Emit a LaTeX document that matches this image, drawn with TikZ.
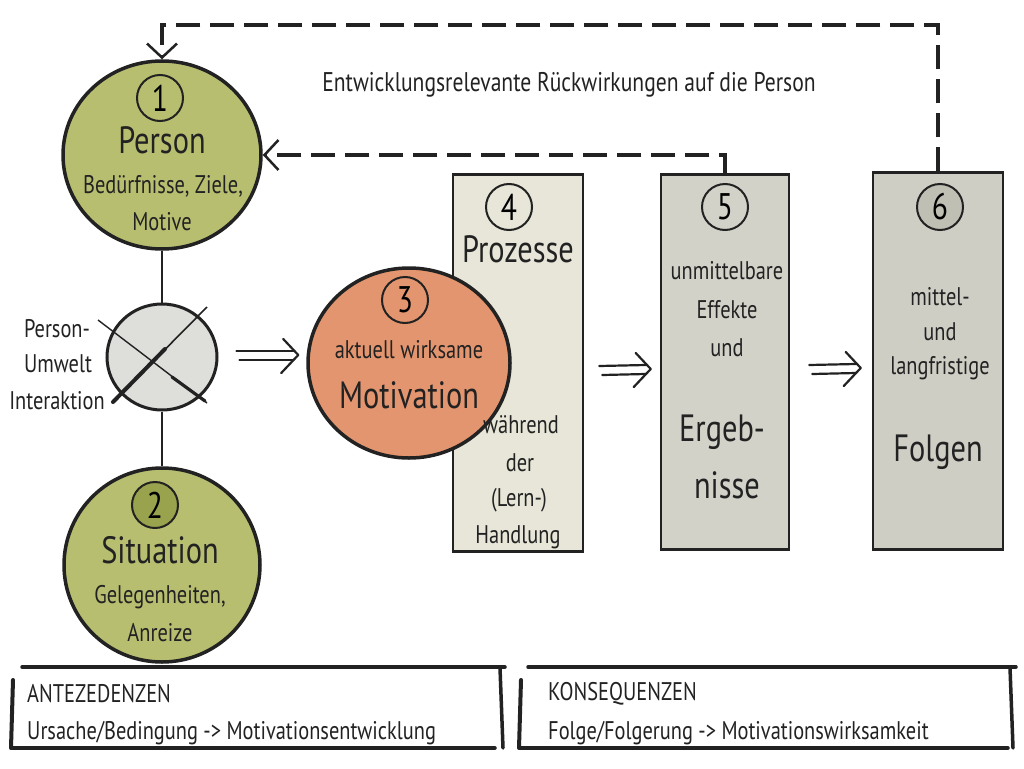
\documentclass[tikz,border=0pt]{standalone}
\usepackage{fontspec}
\setmainfont{PT Sans}[FakeStretch=0.8]
\usetikzlibrary{arrows.meta,calc,shapes.geometric}
\definecolor{inkc}{HTML}{222222}
\definecolor{cgreen}{HTML}{B8BE70}
\definecolor{cgreenD}{HTML}{99A24C}
\definecolor{corange}{HTML}{E3956F}
\definecolor{cxgray}{HTML}{DEDEDB}
\definecolor{cbox4}{HTML}{E7E6D8}
\definecolor{cbox5}{HTML}{D3D2C9}
\definecolor{cbox6}{HTML}{CFCEC5}
\definecolor{cnum6}{HTML}{C0BFB3}
\begin{document}
\begin{tikzpicture}[x=1pt,y=-1pt,
 bigc/.style={ellipse, draw=inkc, line width=3.5pt, inner sep=0},
 numc/.style={circle, draw=inkc, line width=2pt, minimum size=46pt, inner sep=0, font=\fontsize{37}{37}\selectfont},
 colbox/.style={rectangle, draw=inkc, line width=2.5pt, inner sep=0, minimum width=130pt, minimum height=377pt},
 big/.style={font=\fontsize{38}{38}\selectfont, inner sep=0, text=inkc},
 mid/.style={font=\fontsize{25.5}{25.5}\selectfont, inner sep=0, text=inkc},
 conn/.style={draw=inkc, line width=2.5pt},
 fb/.style={draw=inkc, line width=3.2pt, dash pattern=on 24pt off 10pt, -{Straight Barb[length=14pt,width=30pt,line width=2.5pt]}},
 dbl/.style={draw=inkc, line width=2.2pt, line cap=round, line join=round},
 brush/.style={draw=inkc, line width=3.5pt, line cap=round},
]
\useasboundingbox (0,0) rectangle (1024,768);
\fill[white] (0,0) rectangle (1024,768);

% columns
\node[colbox, fill=cbox4] (R4) at (518,363) {};
\node[colbox, fill=cbox5, minimum width=128pt, minimum height=375pt] (R5) at (725,362) {};
\node[colbox, fill=cbox6] (R6) at (938,361) {};

% circles
\node[bigc, fill=cgreen, minimum width=198pt, minimum height=188pt] (P) at (162,155) {};
\node[ellipse, draw=inkc, line width=3pt, fill=cxgray, minimum width=110pt, minimum height=106pt, inner sep=0] (X) at (162,357) {};
\node[bigc, fill=cgreen, minimum width=196pt, minimum height=194pt] (S) at (162,565) {};
\node[bigc, fill=corange, minimum width=202pt, minimum height=190pt] (M) at (409,363) {};

\draw[conn] (P.south) -- (X.north);
\draw[conn] (X.south) -- (S.north);

% cross
\draw[inkc, line width=1.4pt] (98,320) -- (207,403);
\draw[inkc, line width=3.2pt, line cap=round] (172,377) -- (205,401);
\draw[inkc, line width=1.6pt] (207,307) -- (112,403);
\draw[inkc, line width=4pt, line cap=round] (165,349) -- (113,402);

% number circles
\node[numc, fill=cgreen] (n1) at (160,98) {1};
\node[numc, fill=cgreenD] (n2) at (155,505) {2};
\node[numc, fill=corange] (n3) at (405,300) {3};
\node[numc, fill=cbox4] (n4) at (509,207) {4};
\node[numc, fill=cbox5] (n5) at (725,207) {5};
\node[numc, fill=cnum6] (n6) at (940,207) {6};

% texts
\node[big] (tP) at (162,140) {Person};
\node[mid] (tP2) at (163,186) {Bedürfnisse, Ziele,};
\node[mid] (tP3) at (162,222) {Motive};
\node[big] (tS) at (160,550) {Situation};
\node[mid] (tS2) at (160,597) {Gelegenheiten,};
\node[mid] (tS3) at (160,633) {Anreize};
\node[mid] (tM1) at (409,350) {aktuell wirksame};
\node[big] (tM2) at (409,395) {Motivation};
\node[big] (t4a) at (518,249) {Prozesse};
\node[mid] (t4b) at (521,425) {während};
\node[mid] (t4c) at (520,463) {der};
\node[mid] (t4d) at (519,500) {(Lern-)};
\node[mid] (t4e) at (518,537) {Handlung};
\node[mid] (t5a) at (727,271) {unmittelbare};
\node[mid] (t5b) at (727,310) {Effekte};
\node[mid] (t5c) at (727,348) {und};
\node[big] (t5d) at (722,432) {Ergeb-};
\node[big] (t5e) at (727,485) {nisse};
\node[mid] (t6a) at (940,297) {mittel-};
\node[mid] (t6b) at (940,332) {und};
\node[mid] (t6c) at (940,368) {langfristige};
\node[big] (t6d) at (938,452) {Folgen};
\node[mid] (tI1) at (57,329) {Person-};
\node[mid] (tI2) at (58,364) {Umwelt};
\node[mid] (tI3) at (57,401) {Interaktion};
\node[mid, font=\fontsize{27}{27}\selectfont] (tfb) at (569,85) {Entwicklungsrelevante Rückwirkungen auf die Person};

% feedback
\coordinate (top) at (0,25);
\draw[fb] (R5.north) |- (P.east);
\draw[fb] (R6.north) |- (top -| P.north) -- (P.north);

% double arrows
\coordinate (a1s) at ($(X.east)+(18,-2)$);
\coordinate (a1e) at ($(M.west)+(-8,-8)$);
\coordinate (a2s) at ($(R4.east)+(15,7)$);
\coordinate (a2e) at ($(R5.west)+(-9,7)$);
\coordinate (a3s) at ($(R5.east)+(19,7)$);
\coordinate (a3e) at ($(R6.west)+(-11,7)$);
\foreach \s/\e in {a1s/a1e,a2s/a2e,a3s/a3e}{
  \draw[dbl] ($(\s)+(0,-4)$) -- ($(\e)+(-5,-4)$);
  \draw[dbl] ($(\s)+(3,5)$) -- ($(\e)+(-5,5)$);
  \draw[dbl] ($(\e)+(-15,-16)$) -- (\e) -- ($(\e)+(-17,18)$);
}

% bottom boxes
\draw[brush] (22,667) -- (505,667);
\draw[brush] (12,748) -- (495,748);
\draw[brush, line width=4pt] (13,680) -- (11,748);
\draw[brush] (500,668) -- (503,748);
\draw[brush] (528,667) -- (1016,667);
\draw[brush] (520,748) -- (1008,748);
\draw[brush, line width=4pt] (521,680) -- (519,748);
\draw[brush] (1010,668) -- (1013,748);
\node[mid, anchor=west] (bA1) at (27,694) {ANTEZEDENZEN};
\node[mid, anchor=west] (bA2) at (27,733) {Ursache/Bedingung -> Motivationsentwicklung};
\node[mid, anchor=west] (bK1) at (548,694) {KONSEQUENZEN};
\node[mid, anchor=west] (bK2) at (548,733) {Folge/Folgerung -> Motivationswirksamkeit};
\end{tikzpicture}
\end{document}
